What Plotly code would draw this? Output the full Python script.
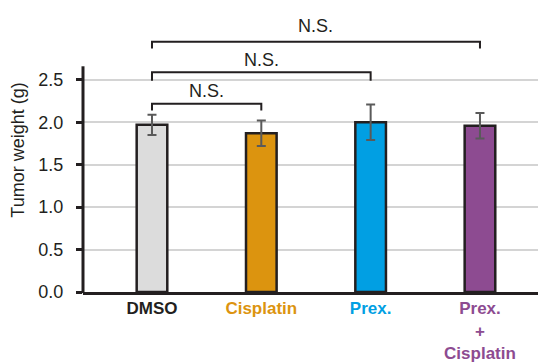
import plotly.graph_objects as go

# ---- data ----
groups = ["DMSO", "Cisplatin", "Prex.", "Prex.<br>+<br>Cisplatin"]
weights = [1.97, 1.87, 2.00, 1.96]
errors = [0.12, 0.15, 0.21, 0.15]
bar_colors = ["#dcdcdc", "#dc940f", "#019fe3", "#8d4b91"]
label_colors = ["#231f20", "#dc940f", "#019fe3", "#8d4b91"]
y_ticks = [0.0, 0.5, 1.0, 1.5, 2.0, 2.5]
y_ticktext = ["0.0", "0.5", "1.0", "1.5", "2.0", "2.5"]
# comparisons: (group a, group b, bracket height, leg bottom, label height)
comparisons = [(0, 1, 2.22, 2.14, 2.37),
               (0, 2, 2.59, 2.49, 2.74),
               (0, 3, 2.95, 2.87, 3.13)]
comp_label = "N.S."

dark = "#231f20"
font_family = "Liberation Sans, Arial, sans-serif"
x_pos = list(range(len(groups)))
y_top = 3.347
y_axis_top = 2.66

fig = go.Figure()
fig.add_trace(go.Bar(
    x=x_pos, y=weights, width=0.28,
    marker=dict(color=bar_colors, line=dict(color=dark, width=2.5)),
    error_y=dict(type="data", array=errors, visible=True,
                 color="#5a5a5a", thickness=2, width=4.5),
    showlegend=False,
))

shapes = []
# y axis line (only up to top of axis)
shapes.append(dict(type="line", xref="paper", yref="paper",
                   x0=0, x1=0, y0=-0.004, y1=y_axis_top / y_top,
                   line=dict(color=dark, width=3)))
annotations = []
for a, b, h, leg, lab in comparisons:
    shapes.append(dict(type="path", xref="x", yref="y",
                       path=f"M {a},{leg} L {a},{h} L {b},{h} L {b},{leg}",
                       line=dict(color=dark, width=2)))
    annotations.append(dict(x=(a + b) / 2, y=lab, xref="x", yref="y",
                            text=comp_label, showarrow=False,
                            font=dict(size=18, color=dark, family=font_family)))

ticktext = [f"<b><span style='color:{c}'>{g}</span></b>" for g, c in zip(groups, label_colors)]

fig.update_layout(
    width=538, height=354,
    margin=dict(l=75, r=0, t=0, b=69.5),
    plot_bgcolor="white", paper_bgcolor="white",
    font=dict(family=font_family, size=17, color=dark),
    shapes=shapes, annotations=annotations,
    xaxis=dict(range=[-0.631, 3.604], tickvals=x_pos, ticktext=ticktext,
               showgrid=False, zeroline=False, showline=True,
               linecolor=dark, linewidth=3, ticks="", automargin=False,
               tickfont=dict(size=17, family=font_family),
               ticklabelstandoff=-1),
    yaxis=dict(range=[0, y_top], tickvals=y_ticks, ticktext=y_ticktext,
               showgrid=True, gridcolor="#d4d4d4", gridwidth=1.5,
               zeroline=False, showline=False, automargin=False,
               ticks="outside", ticklen=6, tickwidth=2.5, tickcolor=dark,
               tickfont=dict(size=18, family=font_family, color=dark),
               ticklabelstandoff=9,
               title=dict(text="Tumor weight (g)", standoff=9,
                          font=dict(size=18, family=font_family, color=dark))),
)

fig.write_html("out.html")
